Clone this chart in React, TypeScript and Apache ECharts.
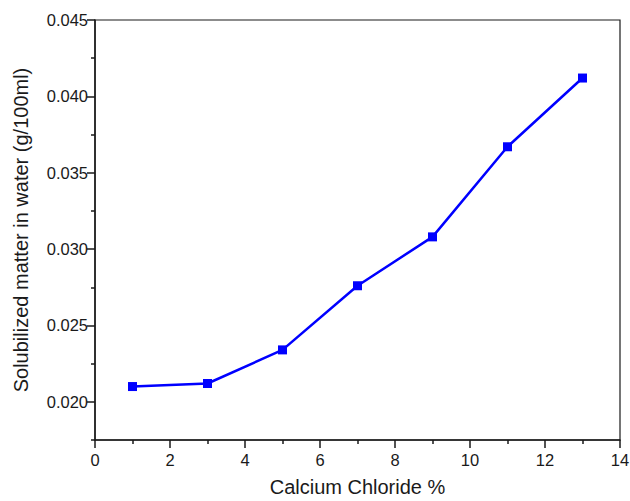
import React, { useEffect, useRef } from "react";
import * as echarts from "echarts";

// Calcium chloride concentration (%) and solubilized matter (g/100ml)
const calciumChloride = [1, 3, 5, 7, 9, 11, 13];
const solubilized = [0.021, 0.0212, 0.0234, 0.0276, 0.0308, 0.0367, 0.0412];

const yMajorTicks = [0.02, 0.025, 0.03, 0.035, 0.04, 0.045];
const yMinorTicks = [0.0175, 0.0225, 0.0275, 0.0325, 0.0375, 0.0425];

const FONT = "'Liberation Sans', Arial, sans-serif";
const INK = "#1a1a1a";

export default function App() {
  const ref = useRef<HTMLDivElement>(null);

  useEffect(() => {
    if (!ref.current) return;
    const chart = echarts.init(ref.current, null, { renderer: "svg" });
    const yMin = 0.0175;
    const yMax = 0.045;
    chart.setOption({
      animation: false,
      backgroundColor: "#ffffff",
      grid: {
        left: 95,
        right: 10,
        top: 20,
        bottom: 61,
        show: true,
        borderColor: INK,
        borderWidth: 1.2,
        containLabel: false,
        outerBoundsMode: "none",
      },
      xAxis: {
        type: "value",
        min: 0,
        max: 14,
        interval: 2,
        name: "Calcium Chloride %",
        nameLocation: "middle",
        nameGap: 37,
        nameTextStyle: { fontFamily: FONT, fontSize: 20, color: INK },
        axisLine: { show: true, onZero: false, lineStyle: { color: INK, width: 1.5 } },
        axisTick: { show: true, inside: false, length: 8, lineStyle: { color: INK, width: 1.5 } },
        minorTick: { show: true, splitNumber: 2, length: 4, lineStyle: { color: INK, width: 1.5 } },
        axisLabel: { fontFamily: FONT, fontSize: 16.5, color: INK, margin: 11 },
        splitLine: { show: false },
        minorSplitLine: { show: false },
      },
      yAxis: [
        {
          type: "value",
          min: yMin,
          max: yMax,
          position: "left",
          name: "Solubilized matter in water (g/100ml)",
          nameLocation: "middle",
          nameGap: 64,
          nameTextStyle: { fontFamily: FONT, fontSize: 20, color: INK },
          axisLine: { show: true, onZero: false, lineStyle: { color: INK, width: 1.5 } },
          axisTick: {
            show: true,
            inside: false,
            length: 8,
            customValues: yMajorTicks,
            lineStyle: { color: INK, width: 1.5 },
          },
          axisLabel: {
            fontFamily: FONT,
            fontSize: 16.5,
            color: INK,
            margin: 7,
            customValues: yMajorTicks,
            formatter: (v: number) => v.toFixed(3),
          },
          splitLine: { show: false },
        },
        {
          type: "value",
          min: yMin,
          max: yMax,
          position: "left",
          offset: 0,
          axisLine: { show: false },
          axisTick: {
            show: true,
            inside: false,
            length: 4,
            customValues: yMinorTicks,
            lineStyle: { color: INK, width: 1.5 },
          },
          axisLabel: { show: false, customValues: yMinorTicks },
          splitLine: { show: false },
        },
      ],
      series: [
        {
          type: "line",
          data: calciumChloride.map((x, i) => [x, solubilized[i]]),
          yAxisIndex: 0,
          symbol: "rect",
          symbolSize: 9,
          lineStyle: { color: "#0000ff", width: 2.5 },
          itemStyle: { color: "#0000ff" },
        },
      ],
    });
    return () => chart.dispose();
  }, []);

  return <div ref={ref} style={{ width: 630, height: 501, position: "absolute", left: 0, top: 0 }} />;
}
